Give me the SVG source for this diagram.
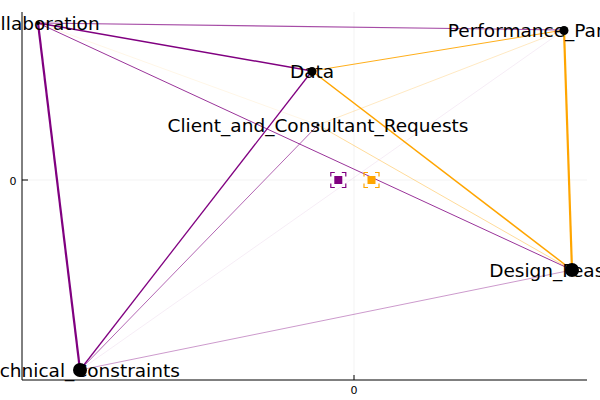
<svg xmlns="http://www.w3.org/2000/svg" width="600" height="400" viewBox="0 0 600 400">
<style>
.lbl{font-family:"DejaVu Sans",sans-serif;font-size:18.5px;fill:#000;text-anchor:middle}
.tick{font-family:"DejaVu Sans",sans-serif;font-size:11px;fill:#000;text-anchor:middle}
.grid{stroke:#000;stroke-opacity:0.1;stroke-width:0.5;fill:none}
.axis{stroke:#000;stroke-width:1;fill:none}
.p{stroke:#800080;fill:none}
.o{stroke:#FFA500;fill:none}
.dot{fill:#000}
.frame{fill:none;stroke-width:1.2;stroke-dasharray:8,7;stroke-dashoffset:4}
</style>
<rect width="600" height="400" fill="#fff"/>
<g id="axes">
<line class="grid" x1="354" y1="12" x2="354" y2="380"/>
<line class="grid" x1="22" y1="180" x2="587" y2="180"/>
<line class="axis" x1="22" y1="12" x2="22" y2="380"/>
<line class="axis" x1="22" y1="380" x2="587" y2="380"/>
<line class="axis" x1="22" y1="180" x2="28" y2="180"/>
<line class="axis" x1="354" y1="380" x2="354" y2="375"/>
<text class="tick" x="13" y="185">0</text>
<text class="tick" x="354" y="394">0</text>
</g>
<g id="connectors">
<line class="p" x1="38" y1="23" x2="80" y2="370" stroke-width="2.2"/>
<line class="p" x1="38" y1="23" x2="312" y2="71" stroke-width="1.5"/>
<line class="p" x1="38" y1="23" x2="564" y2="30" stroke-width="1.1" stroke-opacity="0.7"/>
<line class="p" x1="38" y1="23" x2="572" y2="270" stroke-width="1" stroke-opacity="0.8"/>
<line class="o" x1="38" y1="23" x2="318" y2="125" stroke-width="0.5" stroke-opacity="0.2"/>
<line class="p" x1="80" y1="370" x2="312" y2="71" stroke-width="1.3"/>
<line class="p" x1="80" y1="370" x2="318" y2="125" stroke-width="1" stroke-opacity="0.6"/>
<line class="p" x1="80" y1="370" x2="564" y2="30" stroke-width="0.5" stroke-opacity="0.15"/>
<line class="p" x1="80" y1="370" x2="572" y2="270" stroke-width="1" stroke-opacity="0.4"/>
<line class="o" x1="312" y1="71" x2="564" y2="30" stroke-width="1" stroke-opacity="0.9"/>
<line class="o" x1="312" y1="71" x2="572" y2="270" stroke-width="1.5"/>
<line class="o" x1="564" y1="30" x2="572" y2="270" stroke-width="2.2"/>
<line class="o" x1="318" y1="125" x2="564" y2="30" stroke-width="0.8" stroke-opacity="0.3"/>
<line class="o" x1="318" y1="125" x2="572" y2="270" stroke-width="1" stroke-opacity="0.4"/>
</g>
<g id="legend-markers">
<rect class="frame" x="330.8" y="172.5" width="15" height="15" stroke="#800080"/>
<rect x="334.3" y="176" width="8" height="8" fill="#800080"/>
<rect class="frame" x="364" y="172.5" width="15" height="15" stroke="#FFA500"/>
<rect x="367.5" y="176" width="8" height="8" fill="#FFA500"/>
</g>
<g id="node-collaboration">
<circle class="dot" cx="38" cy="23" r="2"/>
<text class="lbl" x="38" y="29.5">Collaboration</text>
</g>
<g id="node-performance">
<circle class="dot" cx="564" cy="30.5" r="4.5"/>
<text class="lbl" x="564" y="37">Performance_Parameters</text>
</g>
<g id="node-data">
<circle class="dot" cx="312" cy="71.5" r="4.5"/>
<text class="lbl" x="312" y="78">Data</text>
</g>
<g id="node-client">
<circle class="dot" cx="318" cy="125" r="1.5"/>
<text class="lbl" x="318" y="131.5">Client_and_Consultant_Requests</text>
</g>
<g id="node-design">
<circle class="dot" cx="572" cy="270" r="7"/>
<text class="lbl" x="572" y="277">Design_Feasibility</text>
</g>
<g id="node-technical">
<circle class="dot" cx="80" cy="370" r="7"/>
<text class="lbl" x="80" y="377">Technical_Constraints</text>
</g>
</svg>
